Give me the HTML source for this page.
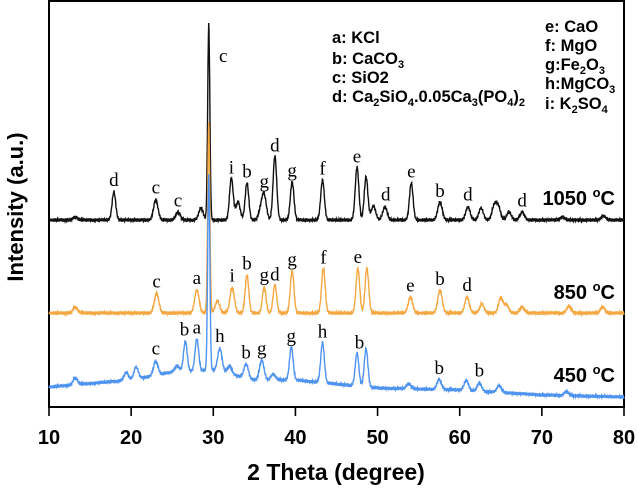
<!DOCTYPE html>
<html><head><meta charset="utf-8">
<style>
html,body{margin:0;padding:0;background:#fff;}
svg{display:block;}
.tk{font-family:"Liberation Sans",sans-serif;font-weight:bold;font-size:20px;}
.lg{font-family:"Liberation Sans",sans-serif;font-weight:bold;font-size:16.5px;}
.pk{font-family:"Liberation Serif",serif;font-size:19px;}
</style></head>
<body>
<svg id="chart" width="637" height="491" viewBox="0 0 637 491" xmlns="http://www.w3.org/2000/svg">
<rect x="49" y="1" width="575" height="406" fill="none" stroke="#000" stroke-width="2"/>
<g id="xticks"></g>
<g id="series"></g>
<g id="labels"></g>
<text x="219" y="62" class="pk">c</text>
<text transform="translate(23,207) rotate(-90)" text-anchor="middle" font-family="Liberation Sans, sans-serif" font-weight="bold" font-size="22">Intensity (a.u.)</text>
<text x="336" y="480" text-anchor="middle" font-family="Liberation Sans, sans-serif" font-weight="bold" font-size="23">2 Theta (degree)</text>
<g>
<text x="332" y="43" class="lg">a: KCl</text>
<text x="332" y="64" class="lg">b: CaCO<tspan font-size="11" dy="4">3</tspan></text>
<text x="332" y="83" class="lg">c: SiO2</text>
<text x="332" y="102" class="lg">d: Ca<tspan font-size="11" dy="4">2</tspan><tspan dy="-4">SiO</tspan><tspan font-size="11" dy="4">4</tspan><tspan dy="-4">.0.05Ca</tspan><tspan font-size="11" dy="4">3</tspan><tspan dy="-4">(PO</tspan><tspan font-size="11" dy="4">4</tspan><tspan dy="-4">)</tspan><tspan font-size="11" dy="4">2</tspan></text>
</g>
<g>
<text x="545" y="32" class="lg">e: CaO</text>
<text x="545" y="51" class="lg">f: MgO</text>
<text x="545" y="70" class="lg">g:Fe<tspan font-size="11" dy="4">2</tspan><tspan dy="-4">O</tspan><tspan font-size="11" dy="4">3</tspan></text>
<text x="545" y="89" class="lg">h:MgCO<tspan font-size="11" dy="4">3</tspan></text>
<text x="545" y="109" class="lg">i: K<tspan font-size="11" dy="4">2</tspan><tspan dy="-4">SO</tspan><tspan font-size="11" dy="4">4</tspan></text>
</g>
<text x="615" y="205" text-anchor="end" class="tk">1050 <tspan font-size="13" dy="-8">o</tspan><tspan dy="8">C</tspan></text>
<text x="615" y="299" text-anchor="end" class="tk">850 <tspan font-size="13" dy="-8">o</tspan><tspan dy="8">C</tspan></text>
<text x="615" y="382" text-anchor="end" class="tk">450 <tspan font-size="13" dy="-8">o</tspan><tspan dy="8">C</tspan></text>
</svg>
<script>
const xTicks = [10,20,30,40,50,60,70,80];
const blackPos = [13.2,17.9,23.0,25.7,28.5,29.45,32.2,33.0,34.1,35.8,36.2,37.5,39.6,43.3,47.5,48.6,49.5,50.9,54.1,57.6,61.0,62.6,64.2,64.7,66.0,67.6,72.5,77.5];
const blackH   = [3,28,20,8,12,196,42,18,37,10,23,64,38,40,53,43,14,13,37,18,13,12,14,13,8,8,3,4];
const orangePos = [13.2,23.1,28.0,29.45,30.5,32.3,34.1,36.2,37.5,39.6,43.4,47.6,48.7,54.0,57.6,60.9,62.7,65.0,65.7,67.6,73.3,77.4];
const orangeH   = [6,20,23,190,12,25,38,26,28,42,45,45,45,16,23,16,9,15,8,6,7,6];
const bluePos = [13.2,19.4,20.6,23.0,25.6,26.6,28.0,29.45,30.8,32.0,34.0,35.9,37.3,39.5,43.3,47.5,48.6,53.8,57.5,60.8,62.4,64.8,73.0];
const blueH   = [7,8,12,14,6,30,32,195,23,8,14,20,6,33,40,33,38,5,10,10,8,7,4];
const blueBaseX = [10,20,25,30,35,40,50,60,70,80];
const blueBaseY = [387,380,372,370,380,380,388,390,395,397];
const blackLabX = [17.9,23.0,25.7,32.2,34.1,36.2,37.5,39.6,43.3,47.5,51.0,54.1,57.6,61.0,67.6];
const blackLab  = ["d","c","c","i","b","g","d","g","f","e","d","e","b","d","d"];
const orangeLabX = [23.1,28.0,32.3,34.1,36.2,37.5,39.6,43.4,47.6,54.0,57.6,60.9];
const orangeLab  = ["c","a","i","b","g","d","g","f","e","e","b","d"];
const blueLabX = [23.0,26.5,28.0,30.8,34.0,35.9,39.5,43.3,47.8,57.5,62.4];
const blueLab  = ["c","b","a","h","b","g","g","h","b","b","b"];

const NS = "http://www.w3.org/2000/svg";
const X = v => 49 + (v - 10) * (575 / 70);
function interpBase(t){
  for (let i=0;i<blueBaseX.length-1;i++){
    if (t<=blueBaseX[i+1]){const f=(t-blueBaseX[i])/(blueBaseX[i+1]-blueBaseX[i]);return blueBaseY[i]+f*(blueBaseY[i+1]-blueBaseY[i]);}
  }
  return blueBaseY[blueBaseY.length-1];
}
function curve(pos,h,base,t){
  let v=0;
  for(let i=0;i<pos.length;i++){
    const s = h[i]>100 ? 0.13 : (h[i]>25 ? 0.22 : 0.27);
    const d=(t-pos[i])/s; v+=h[i]*Math.exp(-0.5*d*d);
  }
  const jit = 1.1*Math.sin(t*37.1)+0.8*Math.sin(t*91.7+1.3);
  return base(t) - v + jit;
}
const series = [
  {name:'series-1050C', pos:blackPos, h:blackH, base:()=>220, color:'#111', lx:blackLabX, lab:blackLab},
  {name:'series-850C', pos:orangePos, h:orangeH, base:()=>313, color:'#f5a742', lx:orangeLabX, lab:orangeLab},
  {name:'series-450C', pos:bluePos, h:blueH, base:interpBase, color:'#4f93f0', lx:blueLabX, lab:blueLab}
];
const sg=document.getElementById('series'), lg=document.getElementById('labels'), xg=document.getElementById('xticks');
series.forEach(s=>{
  let d='';
  for(let t=10;t<=80.001;t+=0.04){d+=(d?'L':'M')+X(t).toFixed(1)+','+curve(s.pos,s.h,s.base,t).toFixed(1);}
  const p=document.createElementNS(NS,'path');
  p.setAttribute('d',d);p.setAttribute('fill','none');p.setAttribute('stroke',s.color);p.setAttribute('stroke-width','1.4');
  
  
  sg.appendChild(p);
  s.lx.forEach((t,i)=>{
    let m=1e9;for(let u=t-0.3;u<=t+0.3;u+=0.05){m=Math.min(m,curve(s.pos,s.h,s.base,u));}
    const tx=document.createElementNS(NS,'text');
    tx.setAttribute('x',X(t).toFixed(1));tx.setAttribute('y',(m-5).toFixed(1));
    tx.setAttribute('text-anchor','middle');tx.setAttribute('class','pk');tx.textContent=s.lab[i];
    
    
    lg.appendChild(tx);
  });
});
xTicks.forEach(v=>{
  const l=document.createElementNS(NS,'line');
  l.setAttribute('x1',X(v));l.setAttribute('x2',X(v));l.setAttribute('y1',407);l.setAttribute('y2',416);
  l.setAttribute('stroke','#000');l.setAttribute('stroke-width','1.6');
  
  
  xg.appendChild(l);
  const tx=document.createElementNS(NS,'text');
  tx.setAttribute('x',X(v));tx.setAttribute('y',444);tx.setAttribute('text-anchor','middle');tx.setAttribute('class','tk');
  tx.textContent=v;
  
  
  xg.appendChild(tx);
});
</script>
</body></html>
